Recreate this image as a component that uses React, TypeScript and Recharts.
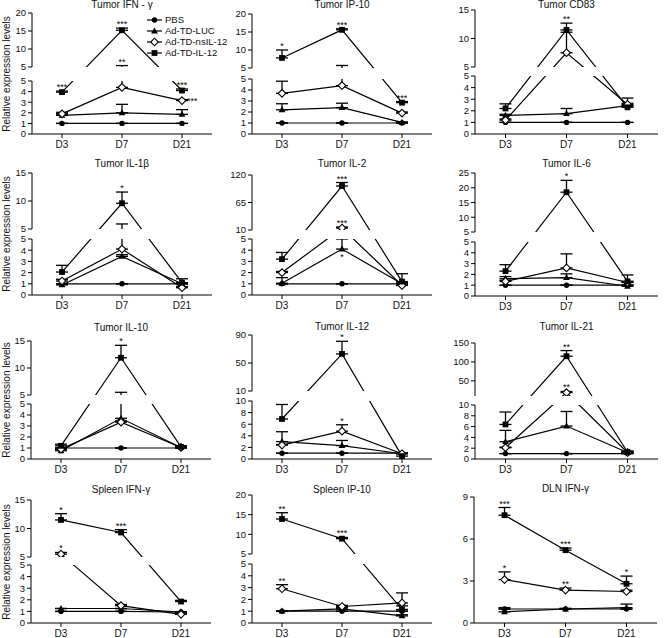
import React from "react";
import {
  LineChart,
  Line,
  XAxis,
  YAxis,
  ErrorBar,
  ReferenceArea,
  ReferenceLine,
  ReferenceDot,
} from "recharts";

const DAYS = ["D3", "D7", "D21"];
const GROUPS = ["PBS", "Ad-TD-LUC", "Ad-TD-nsIL-12", "Ad-TD-IL-12"];
const SHAPES = ["circle", "triangle", "diamond", "square"];

// tick label sets
const T05 = [0, 1, 2, 3, 4, 5];
const T010 = [0, 2, 4, 6, 8, 10];
const T09 = [0, 3, 6, 9];
const U520 = [5, 10, 15, 20];
const U515 = [5, 10, 15];
const U525 = [5, 10, 15, 20, 25];
const U10120 = [10, 65, 120];
const U1090 = [10, 50, 90];
const U10150 = [50, 100, 150];

// rows: PBS, LUC, nsIL-12, IL-12 ; cols: D3, D7, D21
const tIfngVal = [[1, 1, 1], [1.75, 2, 1.85], [1.9, 4.4, 3.15], [3.95, 15.2, 4.1]];
const tIfngErr = [[0, 0, 0], [0.12, 0.8, 0.45], [0.15, 1, 0.1], [0.1, 0.6, 0.15]];
const tIfngSig = [[3, 0, "***"], [3, 1, "***"], [3, 2, "***"], [2, 1, "**"], [2, 2, "***", "right"]];

const tIp10Val = [[1, 1, 1], [2.2, 2.4, 1.05], [3.7, 4.4, 1.9], [7.8, 15.6, 2.85]];
const tIp10Err = [[0, 0, 0], [0.55, 0.4, 0.05], [1.1, 1.3, 0.1], [2.2, 0.3, 0.1]];
const tIp10Sig = [[3, 0, "*"], [3, 1, "***"], [3, 2, "***"]];

const tCd83Val = [[1, 1, 1], [1.6, 1.75, 2.45], [1.2, 7.5, 2.55], [2.2, 11.5, 2.3]];
const tCd83Err = [[0, 0, 0], [0.1, 0.45, 0.65], [0.1, 3.6, 0.1], [0.4, 1.2, 0.1]];
const tCd83Sig = [[3, 1, "**"]];

const tIl1bVal = [[1, 1, 1], [0.9, 3.45, 1.0], [1.25, 4.1, 0.65], [2.05, 9.6, 1.1]];
const tIl1bErr = [[0, 0, 0], [0.1, 0.15, 0.1], [0.15, 1.8, 0.1], [0.6, 2.0, 0.35]];
const tIl1bSig = [[3, 1, "*"]];

const tIl2Val = [[1, 1, 1], [1.05, 4.1, 1.0], [2.0, 14, 0.85], [3.2, 98, 1.2]];
const tIl2Err = [[0, 0, 0], [0.5, 0.9, 0.1], [0.1, 2, 0.1], [0.6, 7, 0.7]];
const tIl2Sig = [[3, 1, "***"], [2, 1, "***"], [1, 1, "*", "bottom"]];

const tIl6Val = [[1, 1, 1], [1.6, 1.7, 0.9], [1.35, 2.6, 1.25], [2.3, 18.5, 1.35]];
const tIl6Err = [[0, 0, 0], [0.2, 0.35, 0.1], [0.1, 1.3, 0.1], [0.6, 4, 0.6]];
const tIl6Sig = [[3, 1, "*"]];

const tIl10Val = [[1, 1, 1], [0.75, 3.7, 1.05], [0.9, 3.35, 1.05], [1.2, 11.9, 1.1]];
const tIl10Err = [[0, 0, 0], [0.15, 1.8, 0.1], [0.1, 0.1, 0.1], [0.15, 2.3, 0.1]];
const tIl10Sig = [[3, 1, "*"]];

const tIl12Val = [[1, 1, 1], [3.0, 2.3, 0.9], [2.4, 4.8, 0.9], [6.9, 63, 0.5]];
const tIl12Err = [[0, 0, 0], [1.7, 0.9, 0.1], [0.1, 1.1, 0.1], [2.5, 18, 0.5]];
const tIl12Sig = [[3, 1, "*"], [2, 1, "*"]];

const tIl21Val = [[1, 1, 1], [3.2, 6.1, 1.2], [2.1, 19, 1.2], [6.4, 115, 1.3]];
const tIl21Err = [[0, 0, 0], [2.1, 2.7, 0.1], [0.1, 3, 0.1], [2.3, 15, 0.2]];
const tIl21Sig = [[3, 1, "**"], [2, 1, "**"]];

const sIfngVal = [[1, 1, 0.95], [1.25, 1.25, 0.95], [5.5, 1.5, 0.75], [11.5, 9.3, 1.85]];
const sIfngErr = [[0, 0, 0], [0, 0, 0], [0.3, 0.1, 0.05], [1.1, 0.5, 0.1]];
const sIfngSig = [[3, 0, "*"], [3, 1, "***"], [2, 0, "*"]];

const sIp10Val = [[1, 1, 1], [1.0, 1.2, 0.6], [2.9, 1.4, 1.7], [13.9, 8.9, 1.15]];
const sIp10Err = [[0, 0, 0], [0, 0.1, 0.1], [0.35, 0.1, 0.85], [1.6, 0.3, 0.3]];
const sIp10Sig = [[3, 0, "**"], [3, 1, "***"], [2, 0, "**"]];

const dIfngVal = [[1, 1, 1], [0.8, 1.0, 1.1], [3.1, 2.35, 2.25], [7.7, 5.2, 2.8]];
const dIfngErr = [[0, 0, 0], [0.3, 0.05, 0.25], [0.55, 0.15, 0.1], [0.55, 0.15, 0.55]];
const dIfngSig = [[3, 0, "***"], [3, 1, "***"], [3, 2, "*"], [2, 0, "*"], [2, 1, "**"]];

type Cfg = {
  title: string;
  val: number[][];
  err: number[][];
  sig: any[];
  lowMax: number;
  lowTicks: number[];
  up?: [number, number];
  upTicks?: number[];
  ax: number;
  top: number;
  ty: number;
  px: number[];
  w?: number;
  ylabel?: boolean;
};

const PANELS: Cfg[] = [
  { title: "Tumor IFN - γ", val: tIfngVal, err: tIfngErr, sig: tIfngSig, lowMax: 5, lowTicks: T05, up: [5, 20], upTicks: U520, ax: 32, top: 13, ty: 5, px: [53, 14, 54], ylabel: true },
  { title: "Tumor IP-10", val: tIp10Val, err: tIp10Err, sig: tIp10Sig, lowMax: 5, lowTicks: T05, up: [5, 20], upTicks: U520, ax: 252, top: 14, ty: 5, px: [55, 11, 54] },
  { title: "Tumor CD83", val: tCd83Val, err: tCd83Err, sig: tCd83Sig, lowMax: 5, lowTicks: T05, up: [5, 15], upTicks: U515, ax: 475, top: 10, ty: 5, px: [58, 9, 57], w: 183 },
  { title: "Tumor IL-1β", val: tIl1bVal, err: tIl1bErr, sig: tIl1bSig, lowMax: 5, lowTicks: T05, up: [5, 15], upTicks: U515, ax: 32, top: 173, ty: 164, px: [56, 10, 56], ylabel: true },
  { title: "Tumor IL-2", val: tIl2Val, err: tIl2Err, sig: tIl2Sig, lowMax: 5, lowTicks: T05, up: [10, 120], upTicks: U10120, ax: 252, top: 175, ty: 164, px: [56, 9, 55] },
  { title: "Tumor IL-6", val: tIl6Val, err: tIl6Err, sig: tIl6Sig, lowMax: 5, lowTicks: T05, up: [5, 25], upTicks: U525, ax: 475, top: 173, ty: 164, px: [54, 10, 59], w: 183 },
  { title: "Tumor IL-10", val: tIl10Val, err: tIl10Err, sig: tIl10Sig, lowMax: 5, lowTicks: T05, up: [5, 15], upTicks: U515, ax: 31, top: 341, ty: 328, px: [55, 9, 54], ylabel: true },
  { title: "Tumor IL-12", val: tIl12Val, err: tIl12Err, sig: tIl12Sig, lowMax: 10, lowTicks: T010, up: [10, 90], upTicks: U1090, ax: 252, top: 335, ty: 327, px: [58, 10, 56] },
  { title: "Tumor IL-21", val: tIl21Val, err: tIl21Err, sig: tIl21Sig, lowMax: 10, lowTicks: T010, up: [10, 150], upTicks: U10150, ax: 475, top: 343, ty: 327, px: [54, 9, 53], w: 183 },
  { title: "Spleen IFN-γ", val: sIfngVal, err: sIfngErr, sig: sIfngSig, lowMax: 5, lowTicks: T05, up: [5, 15], upTicks: U515, ax: 31, top: 500, ty: 490, px: [58, 8, 57], ylabel: true },
  { title: "Spleen IP-10", val: sIp10Val, err: sIp10Err, sig: sIp10Sig, lowMax: 5, lowTicks: T05, up: [5, 20], upTicks: U520, ax: 252, top: 495, ty: 490, px: [59, 10, 59] },
  { title: "DLN IFN-γ", val: dIfngVal, err: dIfngErr, sig: dIfngSig, lowMax: 9, lowTicks: T09, ax: 474, top: 497, ty: 489, px: [126], w: 183 },
];

const FONT = "'Liberation Sans', Arial, Helvetica, sans-serif";
const MT = 8; // chart top margin
const XH = 20; // x axis height
const YW = 30; // y axis width

function Marker({ shape, cx, cy }: { shape: string; cx?: number; cy?: number }) {
  if (cx == null || cy == null) return null;
  if (shape === "circle") return <circle cx={cx} cy={cy} r={2.7} fill="#000" />;
  if (shape === "triangle")
    return <path d={`M${cx},${cy - 3.6}L${cx + 3.4},${cy + 2.4}L${cx - 3.4},${cy + 2.4}Z`} fill="#000" />;
  if (shape === "diamond")
    return (
      <path
        d={`M${cx},${cy - 3.8}L${cx + 3.8},${cy}L${cx},${cy + 3.8}L${cx - 3.8},${cy}Z`}
        fill="#fff"
        stroke="#000"
        strokeWidth={1.1}
      />
    );
  return <rect x={cx - 2.9} y={cy - 2.9} width={5.8} height={5.8} fill="#000" />;
}

function Panel({ p }: { p: Cfg }) {
  const single = p.px.length === 1;
  const [lo, gap, up] = single ? [p.px[0], 0, 0] : p.px;
  const total = lo + gap + up;
  const plotW = p.w ?? 180;

  // piecewise map of a real value onto the broken axis
  const f = (v: number) => {
    if (single || !p.up) return (v / p.lowMax) * lo;
    const [ub, ut] = p.up;
    if (v <= p.lowMax) return (v / p.lowMax) * lo;
    if (v >= ub) return lo + gap + ((v - ub) / (ut - ub)) * up;
    return lo + ((v - p.lowMax) / (ub - p.lowMax)) * gap;
  };

  const data = DAYS.map((d, i) => {
    const row: any = { x: i + 0.5 };
    p.val.forEach((vals, s) => {
      const v = vals[i];
      const e = p.err[s][i];
      row[`v${s}`] = f(v);
      row[`e${s}`] = [0, f(v + e) - f(v)];
    });
    return row;
  });

  const ticks = p.lowTicks.map((t) => ({ y: (t / p.lowMax) * lo, t }));
  if (!single && p.up && p.upTicks) {
    const [ub, ut] = p.up;
    p.upTicks.forEach((t) => ticks.push({ y: lo + gap + ((t - ub) / (ut - ub)) * up, t }));
  }
  const fmt = (v: number) => {
    let best = ticks[0];
    for (const k of ticks) if (Math.abs(k.y - v) < Math.abs(best.y - v)) best = k;
    return String(best.t);
  };

  const width = YW + plotW + 6;
  const height = MT + total + XH;

  return (
    <>
      <div
        style={{
          position: "absolute",
          left: p.ax,
          width: plotW,
          top: p.ty - 6,
          textAlign: "center",
          fontSize: 10,
          fontFamily: FONT,
          color: "#111",
          lineHeight: "12px",
        }}
      >
        {p.title}
      </div>
      {p.ylabel && (
        <div
          style={{
            position: "absolute",
            left: 7 - 70,
            top: p.top + total / 2 - 6,
            width: 140,
            textAlign: "center",
            fontSize: 10,
            fontFamily: FONT,
            color: "#111",
            lineHeight: "12px",
            transform: "rotate(-90deg)",
          }}
        >
          Relative expression levels
        </div>
      )}
      <div style={{ position: "absolute", left: p.ax - YW, top: p.top - MT }}>
        <LineChart width={width} height={height} data={data} margin={{ top: MT, right: 6, bottom: 0, left: 0 }}>
          <XAxis
            type="number"
            dataKey="x"
            domain={[0, 3]}
            ticks={[0.5, 1.5, 2.5]}
            tickFormatter={(v: number) => DAYS[Math.round(v - 0.5)]}
            allowDecimals
            height={XH}
            tickSize={4}
            tickMargin={3}
            axisLine={{ stroke: "#000" }}
            tickLine={{ stroke: "#000" }}
            tick={{ fontSize: 10, fill: "#111", fontFamily: FONT }}
            interval={0}
          />
          <YAxis
            type="number"
            domain={[0, total]}
            allowDataOverflow
            ticks={ticks.map((k) => k.y)}
            tickFormatter={fmt}
            width={YW}
            tickSize={4}
            tickMargin={2}
            interval={0}
            axisLine={false}
            tickLine={{ stroke: "#000" }}
            tick={{ fontSize: 9.5, fill: "#111", fontFamily: FONT }}
          />
          <ReferenceLine
            segment={[{ x: 0, y: 0 }, { x: 0, y: lo }]}
            stroke="#000"
            strokeWidth={1}
            ifOverflow="visible"
          />
          {!single && (
            <ReferenceLine
              segment={[{ x: 0, y: lo + gap }, { x: 0, y: total }]}
              stroke="#000"
              strokeWidth={1}
              ifOverflow="visible"
            />
          )}
          {p.val.map((_, s) => (
            <Line
              key={s}
              dataKey={`v${s}`}
              stroke="#000"
              strokeWidth={1.2}
              isAnimationActive={false}
              activeDot={false}
              dot={(dp: any) => <Marker key={`${s}-${dp.index}`} shape={SHAPES[s]} cx={dp.cx} cy={dp.cy} />}
            >
              <ErrorBar dataKey={`e${s}`} direction="y" width={6} stroke="#000" strokeWidth={1.3} isAnimationActive={false} />
            </Line>
          ))}
          {!single && (
            <ReferenceArea
              x1={0}
              x2={3}
              y1={lo}
              y2={lo + gap}
              fill="#fff"
              fillOpacity={1}
              stroke="none"
              ifOverflow="visible"
              {...({ zIndex: 1500 } as any)}
            />
          )}
          {p.sig.map(([s, i, text, pos], k) => {
            const v = p.val[s][i];
            const e = p.err[s][i];
            const where = pos ?? "top";
            const y = where === "top" ? f(v + e) : f(v);
            return (
              <ReferenceDot
                key={`sig${k}`}
                x={i + 0.5}
                y={y}
                r={0}
                fill="none"
                stroke="none"
                ifOverflow="visible"
                {...({ zIndex: 1600 } as any)}
                label={{
                  value: text,
                  position: where,
                  offset: where === "top" ? 1 : 5,
                  fontSize: 9,
                  fill: "#000",
                  fontFamily: FONT,
                }}
              />
            );
          })}
        </LineChart>
      </div>
    </>
  );
}

function LegendBox() {
  return (
    <div style={{ position: "absolute", left: 146, top: 14, fontFamily: FONT, fontSize: 9.5, color: "#111" }}>
      {GROUPS.map((g, s) => (
        <div key={g} style={{ display: "flex", alignItems: "center", height: 11 }}>
          <svg width={17} height={10}>
            <line x1={1} x2={16} y1={5} y2={5} stroke="#000" strokeWidth={1.2} />
            <Marker shape={SHAPES[s]} cx={8.5} cy={5} />
          </svg>
          <span style={{ marginLeft: 2 }}>{g}</span>
        </div>
      ))}
    </div>
  );
}

export default function App() {
  return (
    <div style={{ position: "absolute", left: 0, top: 0, width: 667, height: 638, background: "#fff", overflow: "hidden" }}>
      {PANELS.map((p) => (
        <Panel key={p.title} p={p} />
      ))}
      <LegendBox />
    </div>
  );
}
